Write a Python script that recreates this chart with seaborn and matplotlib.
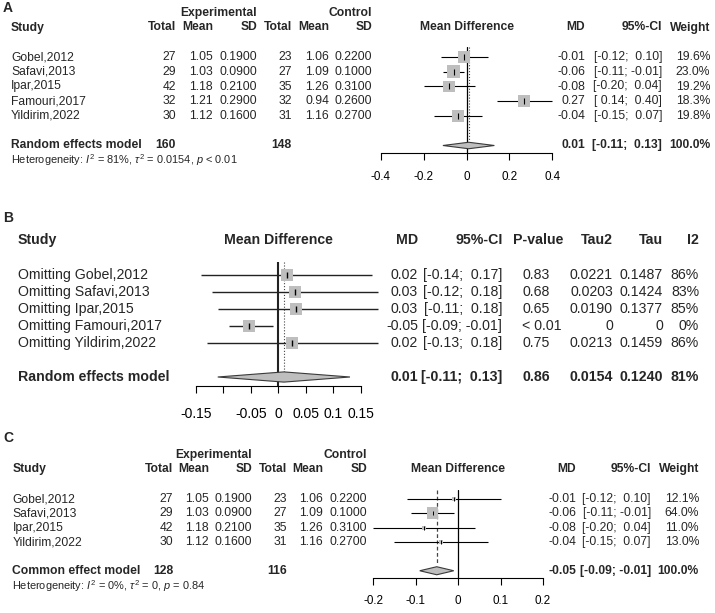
import matplotlib
matplotlib.use("Agg")
import matplotlib.pyplot as plt
import matplotlib.transforms as mtransforms
import pandas as pd
import seaborn as sns

# ---- data -------------------------------------------------------------
studies = ["Gobel,2012", "Safavi,2013", "Ipar,2015", "Famouri,2017", "Yildirim,2022"]
exp_n = [27, 29, 42, 32, 30]
exp_mean = [1.05, 1.03, 1.18, 1.21, 1.12]
exp_sd = [0.19, 0.09, 0.21, 0.29, 0.16]
ctl_n = [23, 27, 35, 32, 31]
ctl_mean = [1.06, 1.09, 1.26, 0.94, 1.16]
ctl_sd = [0.22, 0.10, 0.31, 0.26, 0.27]
md = [-0.01, -0.06, -0.08, 0.27, -0.04]
md_lo = [-0.12, -0.11, -0.20, 0.14, -0.15]
md_hi = [0.10, -0.01, 0.04, 0.40, 0.07]
weight_random = [19.6, 23.0, 19.2, 18.3, 19.8]
random_md, random_lo, random_hi = 0.01, -0.11, 0.13
total_exp_a, total_ctl_a = 160, 148
het_a = r"Heterogeneity: $I^2$ = 81%, $\tau^2$ = 0.0154, $p$ < 0.01"

# leave-one-out
omit_md = [0.016, 0.031, 0.032, -0.054, 0.024]
omit_lo = [-0.14, -0.12, -0.11, -0.09, -0.13]
omit_hi = [0.17, 0.18, 0.18, -0.01, 0.18]
omit_p = ["0.83", "0.68", "0.65", "< 0.01", "0.75"]
omit_tau2 = ["0.0221", "0.0203", "0.0190", "0", "0.0213"]
omit_tau = ["0.1487", "0.1424", "0.1377", "0", "0.1459"]
omit_i2 = ["86%", "83%", "85%", "0%", "86%"]
loo_summary = ["0.86", "0.0154", "0.1240", "81%"]

# sensitivity (Famouri removed), common effect
keep = [0, 1, 2, 4]
weight_common = [12.1, 64.0, 11.0, 13.0]
common_md, common_lo, common_hi = -0.05, -0.09, -0.01
total_exp_c, total_ctl_c = 128, 116
het_c = r"Heterogeneity: $I^2$ = 0%, $\tau^2$ = 0, $p$ = 0.84"

a_ticks = [-0.4, -0.2, 0, 0.2, 0.4]
a_tick_labels = ["-0.4", "-0.2", "0", "0.2", "0.4"]
b_ticks = [-0.15, -0.1, -0.05, 0, 0.05, 0.1, 0.15]
b_tick_labels = ["-0.15", "", "-0.05", "0", "0.05", "0.1", "0.15"]
c_ticks = [-0.2, -0.1, 0, 0.1, 0.2]
c_tick_labels = ["-0.2", "-0.1", "0", "0.1", "0.2"]

# ---- style ------------------------------------------------------------
sns.set_style("white")
plt.rcParams["font.family"] = ["Liberation Sans", "DejaVu Sans"]
plt.rcParams["mathtext.fontset"] = "custom"
plt.rcParams["mathtext.rm"] = "Liberation Sans"
plt.rcParams["mathtext.it"] = "Liberation Sans:italic"
plt.rcParams["axes.unicode_minus"] = False

BOX = "#bebebe"
W, H = 715, 613
fig = plt.figure(figsize=(W / 100, H / 100), dpi=100)
px_x = mtransforms.Affine2D().scale(1 / W, 1) + fig.transFigure


def forest_axes(x0, x1, top, bottom, row0, step, ticks, labels, size, pad):
    ax = fig.add_axes([x0 / W, 1 - bottom / H, (x1 - x0) / W, (bottom - top) / H])
    ax.set_facecolor("none")
    ax.set_xlim(ticks[0], ticks[-1])
    ax.set_ylim((bottom - row0) / step, (top - row0) / step)
    for side in ["left", "right", "top"]:
        ax.spines[side].set_visible(False)
    ax.spines["bottom"].set_linewidth(0.8)
    ax.spines["bottom"].set_color("black")
    ax.set_yticks([])
    ax.set_xticks(ticks)
    ax.set_xticklabels(labels)
    ax.tick_params(axis="x", bottom=True, direction="out", length=5, width=0.8,
                   pad=pad, labelsize=size, colors="black")
    ax.set_xlabel("")
    ax.set_ylabel("")
    return ax


def put(ax, x, row, s, ha="right", bold=False, size=8.7):
    tf = mtransforms.blended_transform_factory(px_x, ax.transData)
    ax.text(x, row, s, transform=tf, ha=ha, va="center", fontsize=size,
            fontweight="bold" if bold else "normal")


def ci_text(lo, hi):
    return f"[{lo:5.2f}; {hi:5.2f}]"


def diamond(ax, est, lo, hi, row, h):
    ax.fill([lo, est, hi, est], [row, row - h, row, row + h],
            facecolor=BOX, edgecolor="#3a3a3a", linewidth=0.8, zorder=4, clip_on=False)


# ---- panel A ------------------------------------------------------------
axA = forest_axes(380.7, 552.3, 47, 153.5, 57, 14.75, a_ticks, a_tick_labels, 8.4, 7.5)
fs = 8.7
fig.text(3 / W, 1 - 8 / H, "A", fontsize=10, fontweight="bold", ha="left", va="center")
put(axA, 257, -3, "Experimental", bold=True, size=fs)
put(axA, 372, -3, "Control", bold=True, size=fs)
for x, s in [(176, "Total"), (213, "Mean"), (257, "SD"), (292, "Total"), (329, "Mean"),
             (372, "SD"), (585, "MD"), (662, "95%-CI"), (710, "Weight")]:
    put(axA, x, -2, s, bold=True, size=fs)
put(axA, 11, -2, "Study", ha="left", bold=True, size=fs)
axA.text(0, -2, "Mean Difference", ha="center", va="center", fontsize=fs, fontweight="bold")

rowsA = list(range(len(studies)))
for r in rowsA:
    put(axA, 11, r, studies[r], ha="left", size=fs)
    put(axA, 176, r, str(exp_n[r]), size=fs)
    put(axA, 213, r, f"{exp_mean[r]:.2f}", size=fs)
    put(axA, 257, r, f"{exp_sd[r]:.4f}", size=fs)
    put(axA, 292, r, str(ctl_n[r]), size=fs)
    put(axA, 329, r, f"{ctl_mean[r]:.2f}", size=fs)
    put(axA, 372, r, f"{ctl_sd[r]:.4f}", size=fs)
    put(axA, 585, r, f"{md[r]:.2f}", size=fs)
    put(axA, 662, r, ci_text(md_lo[r], md_hi[r]), size=fs)
    put(axA, 710, r, f"{weight_random[r]:.1f}%", size=fs)

sumA = 6
put(axA, 11, sumA, "Random effects model", ha="left", bold=True, size=fs)
put(axA, 176, sumA, str(total_exp_a), bold=True, size=fs)
put(axA, 292, sumA, str(total_ctl_a), bold=True, size=fs)
put(axA, 585, sumA, f"{random_md:.2f}", bold=True, size=fs)
put(axA, 662, sumA, ci_text(random_lo, random_hi), bold=True, size=fs)
put(axA, 710, sumA, "100.0%", bold=True, size=fs)
put(axA, 11, 7, het_a, ha="left", size=7.9)

dfA = pd.DataFrame({"md": md, "row": rowsA, "weight": weight_random})
axA.axvline(0, color="black", lw=0.9, zorder=1)
axA.vlines(random_md, axA.get_ylim()[1], 5.6, color="#444444", lw=0.8, linestyles=":", zorder=1)
axA.hlines(dfA["row"], md_lo, md_hi, color="black", lw=0.8, zorder=2, clip_on=False)
sns.scatterplot(data=dfA, x="md", y="row", size="weight", sizes=(72, 82), size_norm=(18, 23),
                marker="s", color=BOX, linewidth=0, legend=False, ax=axA, zorder=3)
axA.plot(dfA["md"], dfA["row"], "|", color="black", ms=4, mew=0.8, zorder=4)
diamond(axA, random_md, random_lo, random_hi, sumA, 0.22)
axA.set_xlabel("")
axA.set_ylabel("")

# ---- panel B ------------------------------------------------------------
axB = forest_axes(195.7, 361, 262, 386, 275, 17.0, b_ticks, b_tick_labels, 10, 10)
fb = 10.2
fig.text(3 / W, 1 - 218 / H, "B", fontsize=10, fontweight="bold", ha="left", va="center")
put(axB, 18, -2.05, "Study", ha="left", bold=True, size=fb)
axB.text(0, -2.05, "Mean Difference", ha="center", va="center", fontsize=fb, fontweight="bold")
for x, s in [(418, "MD"), (503, "95%-CI"), (563, "P-value"), (613, "Tau2"), (663, "Tau"), (699, "I2")]:
    put(axB, x, -2.05, s, bold=True, size=fb)

rowsB = list(range(len(studies)))
for r in rowsB:
    put(axB, 18, r, "Omitting " + studies[r], ha="left", size=fb)
    put(axB, 418, r, f"{omit_md[r]:.2f}", size=fb)
    put(axB, 502, r, ci_text(omit_lo[r], omit_hi[r]), size=fb)
    put(axB, 562 if omit_p[r].startswith("<") else 550, r, omit_p[r], size=fb)
    put(axB, 613, r, omit_tau2[r], size=fb)
    put(axB, 663, r, omit_tau[r], size=fb)
    put(axB, 699, r, omit_i2[r], size=fb)

sumB = 6
put(axB, 18, sumB, "Random effects model", ha="left", bold=True, size=fb)
put(axB, 418, sumB, f"{random_md:.2f}", bold=True, size=fb)
put(axB, 502, sumB, ci_text(random_lo, random_hi), bold=True, size=fb)
for x, s in zip([550, 613, 663, 699], loo_summary):
    put(axB, x, sumB, s, bold=True, size=fb)

dfB = pd.DataFrame({"md": omit_md, "row": rowsB})
axB.axvline(0, color="#222222", lw=1.5, zorder=1)
axB.vlines(random_md, axB.get_ylim()[1], 5.7, color="#444444", lw=0.8, linestyles=":", zorder=1)
axB.hlines(dfB["row"], omit_lo, omit_hi, color="#222222", lw=1.0, zorder=2, clip_on=False)
sns.scatterplot(data=dfB, x="md", y="row", s=84, marker="s", color=BOX, linewidth=0,
                legend=False, ax=axB, zorder=3)
axB.plot(dfB["md"], dfB["row"], "|", color="black", ms=5, mew=1.0, zorder=4)
diamond(axB, random_md, random_lo, random_hi, sumB, 0.3)
axB.set_xlabel("")
axB.set_ylabel("")

# ---- panel C ------------------------------------------------------------
axC = forest_axes(373, 543, 490, 577.5, 499, 14.35, c_ticks, c_tick_labels, 8.4, 7.5)
fig.text(3 / W, 1 - 438 / H, "C", fontsize=10, fontweight="bold", ha="left", va="center")
put(axC, 252, -3.07, "Experimental", bold=True, size=fs)
put(axC, 367, -3.07, "Control", bold=True, size=fs)
for x, s in [(173, "Total"), (209, "Mean"), (252, "SD"), (287, "Total"), (323, "Mean"),
             (367, "SD"), (576, "MD"), (651, "95%-CI"), (699, "Weight")]:
    put(axC, x, -2.1, s, bold=True, size=fs)
put(axC, 12.5, -2.1, "Study", ha="left", bold=True, size=fs)
axC.text(0, -2.1, "Mean Difference", ha="center", va="center", fontsize=fs, fontweight="bold")

rowsC = list(range(len(keep)))
for r, k in zip(rowsC, keep):
    put(axC, 12.5, r, studies[k], ha="left", size=fs)
    put(axC, 173, r, str(exp_n[k]), size=fs)
    put(axC, 209, r, f"{exp_mean[k]:.2f}", size=fs)
    put(axC, 252, r, f"{exp_sd[k]:.4f}", size=fs)
    put(axC, 287, r, str(ctl_n[k]), size=fs)
    put(axC, 323, r, f"{ctl_mean[k]:.2f}", size=fs)
    put(axC, 367, r, f"{ctl_sd[k]:.4f}", size=fs)
    put(axC, 576, r, f"{md[k]:.2f}", size=fs)
    put(axC, 651, r, ci_text(md_lo[k], md_hi[k]), size=fs)
    put(axC, 699, r, f"{weight_common[r]:.1f}%", size=fs)

sumC = 5
put(axC, 12.5, sumC, "Common effect model", ha="left", bold=True, size=fs)
put(axC, 173, sumC, str(total_exp_c), bold=True, size=fs)
put(axC, 287, sumC, str(total_ctl_c), bold=True, size=fs)
put(axC, 576, sumC, f"{common_md:.2f}", bold=True, size=fs)
put(axC, 651, sumC, ci_text(common_lo, common_hi), bold=True, size=fs)
put(axC, 699, sumC, "100.0%", bold=True, size=fs)
put(axC, 12.5, 6.06, het_c, ha="left", size=7.9)

dfC = pd.DataFrame({"md": [md[k] for k in keep], "row": rowsC, "weight": weight_common})
axC.axvline(0, color="black", lw=0.9, zorder=1)
axC.vlines(common_md, axC.get_ylim()[1], 4.6, color="#444444", lw=0.9,
           linestyles=(0, (3, 2)), zorder=1)
axC.hlines(dfC["row"], [md_lo[k] for k in keep], [md_hi[k] for k in keep],
           color="black", lw=0.8, zorder=2, clip_on=False)
sns.scatterplot(data=dfC, x="md", y="row", size="weight", sizes=(8, 72), size_norm=(11, 64),
                marker="s", color=BOX, linewidth=0, legend=False, ax=axC, zorder=3)
axC.plot(dfC["md"], dfC["row"], "|", color="black", ms=3, mew=0.7, zorder=4)
diamond(axC, common_md, common_lo, common_hi, sumC, 0.28)
axC.set_xlabel("")
axC.set_ylabel("")

fig.savefig("out.png", dpi=100)
